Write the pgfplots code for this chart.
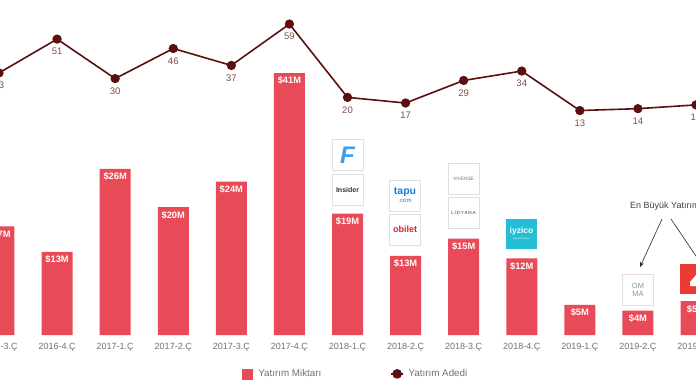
\documentclass[border=0pt]{standalone}
\usepackage{pgfplots}
\pgfplotsset{compat=1.18}
\usepackage{pgfplotstable}
\usepackage{fontspec}
\setmainfont{Liberation Sans}
\usetikzlibrary{arrows.meta}
\definecolor{barred}{HTML}{E84B57}
\definecolor{linered}{HTML}{5C0F0F}
\definecolor{lbl}{HTML}{7A4C4C}
\definecolor{tickc}{HTML}{707070}
\definecolor{boxgray}{HTML}{E0E0E0}
\definecolor{iyzteal}{HTML}{22BFD6}
\definecolor{logored}{HTML}{EE3B32}

\pgfplotstableread{
x y lab
0 17 17
1 13 13
2 26 26
3 20 20
4 24 24
5 41 41
6 19 19
7 12.4 13
8 15.1 15
9 12 12
10 4.7 5
11 3.8 4
12 5.3 5
}\amounts

\pgfplotstableread{
x y
0 33
1 51
2 30
3 46
4 37
5 59
6 20
7 17
8 29
9 34
10 13
11 14
12 16
}\counts

\begin{document}
\begin{tikzpicture}
\useasboundingbox (0pt,-385pt) rectangle (696pt,0pt);
\clip (0pt,-385pt) rectangle (696pt,0pt);
\begin{axis}[
  at={(-35.85pt,-335pt)}, anchor=south west,
  scale only axis, width=766.7pt, height=335pt,
  xmin=-0.6, xmax=12.6, ymin=0, ymax=52.43,
  axis line style={draw=none},
  tick style={draw=none},
  major tick length=0pt,
  ytick=\empty,
  xtick={0,...,12},
  xticklabels={2016-3.Ç,2016-4.Ç,2017-1.Ç,2017-2.Ç,2017-3.Ç,2017-4.Ç,2018-1.Ç,2018-2.Ç,2018-3.Ç,2018-4.Ç,2019-1.Ç,2019-2.Ç,2019-3.Ç},
  xticklabel style={font=\fontsize{9}{9}\selectfont, text=tickc, anchor=base, yshift=-14.5pt},
  ybar, bar width=31pt,
  clip=false,
  point meta=explicit symbolic,
  nodes near coords={\$\pgfplotspointmeta M},
  every node near coord/.append style={anchor=north, text=white, font=\fontsize{9.3}{9.3}\selectfont\bfseries, yshift=-0.5pt},
]
\addplot[fill=barred, draw=none] table[x=x, y=y, meta=lab] {\amounts};
\end{axis}
\begin{axis}[
  at={(-35.85pt,-335pt)}, anchor=south west,
  scale only axis, width=766.7pt, height=335pt,
  xmin=-0.6, xmax=12.6, ymin=-106.4, ymax=71.8,
  hide axis, clip=false,
  /pgf/number format/assume math mode=true,
  nodes near coords,
  point meta=explicit,
  every node near coord/.append style={anchor=north, text=lbl, font=\fontsize{9.5}{9.5}\selectfont, yshift=-5pt},
  legend style={at={(0.5106,-0.116)}, anchor=center, draw=none, fill=none,
    legend columns=2, font=\fontsize{9.8}{9.8}\selectfont, text=tickc,
    /tikz/every even column/.append style={column sep=67pt}},
]
\addlegendimage{legend image code/.code={\fill[barred] (0pt,-5pt) rectangle (10pt,5pt); \path (14pt,0pt);}}
\addlegendentry{Yatırım Miktarı}
\addplot[color=linered, line width=1.6pt, mark=*, mark size=3.8pt, mark options={fill=linered},
  legend image code/.code={\draw[linered, line width=1.6pt] (-6pt,0pt) -- (6pt,0pt); \fill[linered] (0pt,0pt) circle (4pt); \path (8.7pt,0pt);}]
  table[x=x, y=y, meta=y] {\counts};
\addlegendentry{Yatırım Adedi}
\end{axis}

% logos (annotations)
\tikzset{logo/.style={draw=boxgray, fill=white, line width=0.8pt, minimum width=31pt, minimum height=31pt, inner sep=0pt, align=center}}
\node[logo, text={rgb,255:red,58;green,159;blue,230}, font=\fontsize{24}{24}\selectfont\bfseries\itshape] at (347.5pt,-155pt) {F};
\node[logo, text=black!80, font=\fontsize{7}{7}\selectfont\bfseries] at (347.5pt,-189.5pt) {Insider};
\node[logo, text={rgb,255:red,26;green,127;blue,212}, font=\fontsize{10.5}{9}\selectfont\bfseries] at (405pt,-195.5pt) {tapu\\[-1pt]{\fontsize{6}{6}\selectfont\mdseries .com}};
\node[logo, text={rgb,255:red,215;green,38;blue,46}, font=\fontsize{9}{9}\selectfont\bfseries] at (405pt,-229.5pt) {obilet};
\node[logo, text=black!55, font=\fontsize{4.8}{4.8}\selectfont] at (463.5pt,-178.5pt) {VIVENSE};
\node[logo, text=black!80, font=\fontsize{4.6}{4.6}\selectfont] at (463.5pt,-212.5pt) {L\,İ\,D\,Y\,A\,N\,A};
\node[logo, draw=none, fill=iyzteal, minimum height=30pt, text=white, font=\fontsize{8.5}{8}\selectfont\bfseries] at (521.5pt,-234pt) {iyzico\\[-2pt]{\fontsize{2.5}{2.5}\selectfont\mdseries pay with iyzico}};
\node[logo, text={rgb,255:red,122;green,153;blue,168}, font=\fontsize{7.5}{8}\selectfont] at (638pt,-289.5pt) {OM\\MA};
\node[logo, draw=none, fill=logored, minimum height=30pt] at (695.5pt,-279pt) {};
\fill[white] (690pt,-282pt) -- (696pt,-275pt) -- (702pt,-282pt) -- (702pt,-286pt) -- (690pt,-286pt) -- cycle;

% annotation
\node[anchor=west, inner sep=0pt, text=black!75, font=\fontsize{9}{9}\selectfont] at (630pt,-206pt) {En Büyük Yatırımlar};
\draw[-{Stealth[length=5pt,width=4pt]}, line width=0.6pt, black!85] (662pt,-219pt) -- (640pt,-267pt);
\draw[-{Stealth[length=5pt,width=4pt]}, line width=0.6pt, black!85] (671pt,-219pt) -- (700pt,-262pt);
\end{tikzpicture}
\end{document}
